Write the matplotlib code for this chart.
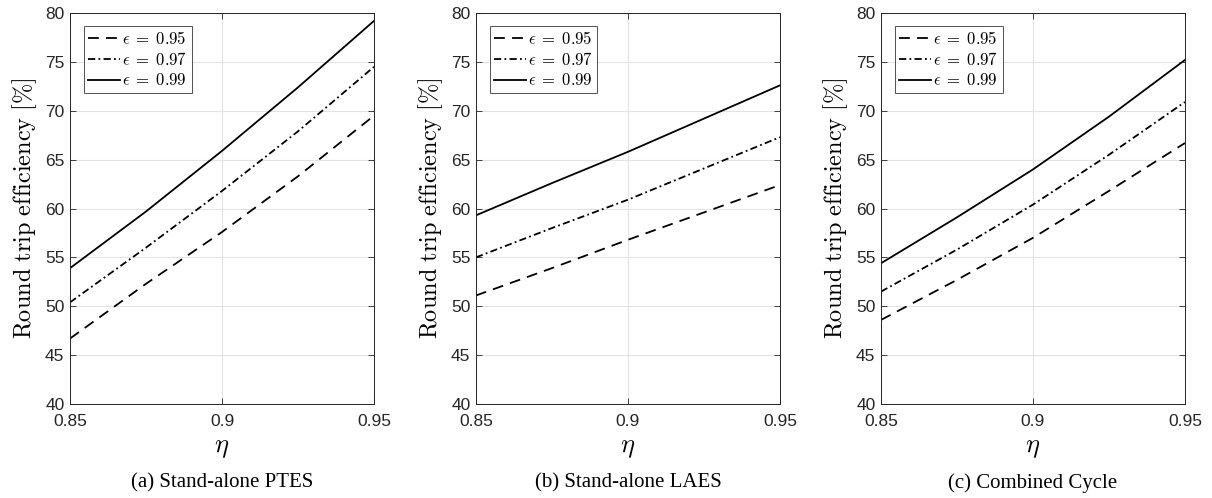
import numpy as np
import matplotlib.pyplot as plt

plt.rcParams["mathtext.fontset"] = "cm"
plt.rcParams["font.family"] = ["Liberation Sans", "DejaVu Sans"]

eta = [0.85, 0.875, 0.9, 0.925, 0.95]
eps_labels = [r"$\epsilon\;=\;0.95$", r"$\epsilon\;=\;0.97$", r"$\epsilon\;=\;0.99$"]

# round trip efficiency [%] for eps = 0.95, 0.97, 0.99
ptes_95 = [46.7, 52.3, 57.6, 63.3, 69.5]
ptes_97 = [50.4, 56.0, 61.8, 67.9, 74.5]
ptes_99 = [53.9, 59.7, 65.9, 72.4, 79.2]

laes_95 = [51.1, 53.9, 56.8, 59.6, 62.4]
laes_97 = [55.0, 58.0, 60.9, 64.1, 67.3]
laes_99 = [59.3, 62.6, 65.8, 69.2, 72.6]

comb_95 = [48.6, 52.7, 57.0, 61.8, 66.7]
comb_97 = [51.5, 55.8, 60.4, 65.5, 70.9]
comb_99 = [54.4, 59.1, 64.0, 69.4, 75.2]

panels = [
    ("(a) Stand-alone PTES", [ptes_95, ptes_97, ptes_99]),
    ("(b) Stand-alone LAES", [laes_95, laes_97, laes_99]),
    ("(c) Combined Cycle", [comb_95, comb_97, comb_99]),
]

styles = [(0, (6, 4)), (0, (4, 1.8, 1, 1.8)), "-"]
lefts = [0.0578, 0.3927, 0.7269]

fig = plt.figure(figsize=(12.12, 4.98), dpi=100)

for left, (caption, series) in zip(lefts, panels):
    ax = fig.add_axes([left, 0.1888, 0.2508, 0.785])
    for vals, ls, lab in zip(series, styles, eps_labels):
        ax.plot(eta, vals, color="black", linestyle=ls, linewidth=1.3, label=lab)

    ax.set_xlim(0.85, 0.95)
    ax.set_ylim(40, 80)
    ax.set_xticks([0.85, 0.9, 0.95])
    ax.set_xticklabels(["0.85", "0.9", "0.95"])
    ax.set_yticks(np.arange(40, 81, 5))
    ax.grid(True, color="#e3e3e3", linewidth=0.8)
    ax.set_axisbelow(True)
    ax.tick_params(direction="in", top=True, right=True, length=4,
                   width=0.6, labelsize=12.5, colors="#262626")
    ax.tick_params(axis="x", pad=7)
    ax.tick_params(axis="y", pad=4)
    for sp in ax.spines.values():
        sp.set_color("#262626")
        sp.set_linewidth(0.7)

    ax.set_ylabel(r"$\mathrm{Round\ trip\ efficiency\ [\%]}$", fontsize=17.5,
                  labelpad=4)
    ax.set_xlabel(r"$\eta$", fontsize=19, labelpad=5)
    ax.text(0.5, -0.176, caption, transform=ax.transAxes, ha="center",
            va="top", fontsize=15, family="Liberation Serif")

    leg = ax.legend(loc="upper left", bbox_to_anchor=(0.046, 0.967),
                    fontsize=12, frameon=True, fancybox=False,
                    handlelength=1.9, handletextpad=0.15, borderpad=0.25,
                    labelspacing=0.25, borderaxespad=0.0)
    leg.get_frame().set_edgecolor("#262626")
    leg.get_frame().set_linewidth(0.7)

fig.savefig("out.png", dpi=100)
